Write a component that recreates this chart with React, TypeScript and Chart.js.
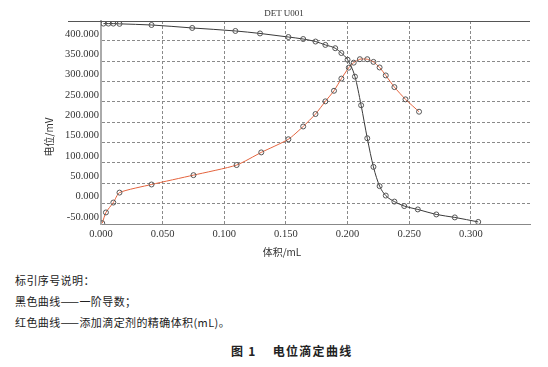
import React, { useEffect, useRef } from "react";
import { Chart, registerables } from "chart.js";

Chart.register(...registerables);

// ---- data ----
const CHART_TITLE = "DET U001";
const X_TITLE = "体积/mL";
const Y_TITLE = "电位/mV";

const blackX = [0.002, 0.006, 0.010, 0.015, 0.041, 0.074, 0.109, 0.129, 0.152, 0.164, 0.174, 0.182, 0.190, 0.195, 0.200, 0.206, 0.211, 0.216, 0.221, 0.226, 0.231, 0.238, 0.246, 0.257, 0.272, 0.287, 0.306];
const blackY = [442.6, 442.6, 442.6, 442.0, 439.2, 431.9, 424.5, 418.4, 409.6, 404.7, 398.5, 390.2, 382.1, 370.3, 353.9, 312.3, 241.9, 160.8, 90.4, 43.1, 19.9, 5.1, -5.9, -14.2, -26.5, -33.8, -44.9];

const redX = [0.001, 0.004, 0.010, 0.015, 0.041, 0.075, 0.110, 0.130, 0.152, 0.164, 0.174, 0.182, 0.189, 0.195, 0.201, 0.205, 0.210, 0.216, 0.221, 0.226, 0.231, 0.238, 0.247, 0.258];
const redY = [-48.0, -21.6, 2.7, 27.2, 47.1, 70.1, 94.9, 126.0, 158.3, 189.7, 220.3, 251.5, 277.5, 307.4, 334.3, 346.6, 355.1, 355.1, 348.5, 334.8, 315.2, 286.5, 256.4, 226.0];

const xTicks = [0, 0.05, 0.1, 0.15, 0.2, 0.25, 0.3];
const yTicks = [-50, 0, 50, 100, 150, 200, 250, 300, 350, 400];

const X_MIN = 0;
const X_MAX = 0.348;
const Y_MIN = -50;
const Y_MAX = 449;

const NOTE_HEAD = "标引序号说明：";
const NOTE_BLACK = "黑色曲线——一阶导数；";
const NOTE_RED = "红色曲线——添加滴定剂的精确体积(mL)。";
const FIG_CAPTION_NUM = "图 1";
const FIG_CAPTION_TEXT = "电位滴定曲线";

const W = 548;
const CH = 265;

const decorPlugin = {
  id: "decor",
  afterDraw(chart: any) {
    const { ctx, chartArea } = chart;
    ctx.save();
    ctx.strokeStyle = "#555";
    ctx.lineWidth = 1;
    const ty = Math.round(chartArea.top) + 0.5;
    ctx.beginPath();
    ctx.moveTo(68, ty);
    ctx.lineTo(chartArea.right, ty);
    ctx.stroke();

    ctx.fillStyle = "#333";
    ctx.textAlign = "center";
    ctx.textBaseline = "middle";
    ctx.font = '9px "Liberation Serif"';
    ctx.fillText(CHART_TITLE, 284, 14);

    ctx.font = '10px "Noto Sans CJK SC"';
    ctx.fillText(X_TITLE, 282, 252);

    ctx.translate(49, 137);
    ctx.rotate(-Math.PI / 2);
    ctx.fillText(Y_TITLE, 0, 0);
    ctx.restore();
  },
};

export default function App() {
  const ref = useRef<HTMLCanvasElement | null>(null);

  useEffect(() => {
    if (!ref.current) return;
    const pointStyle = {
      pointRadius: 2.5,
      pointHoverRadius: 2.5,
      pointBorderWidth: 1,
      pointBorderColor: "#555",
      pointBackgroundColor: "rgba(0,0,0,0)",
      borderWidth: 1,
    };
    const chart = new Chart(ref.current, {
      type: "line",
      data: {
        datasets: [
          {
            label: "black",
            data: blackX.map((x, i) => ({ x, y: blackY[i] })),
            borderColor: "#3a3a3a",
            cubicInterpolationMode: "monotone",
            ...pointStyle,
          },
          {
            label: "red",
            data: redX.map((x, i) => ({ x, y: redY[i] })),
            borderColor: "#e4643e",
            tension: 0.2,
            ...pointStyle,
          },
        ],
      },
      options: {
        animation: false,
        responsive: false,
        devicePixelRatio: 1,
        layout: { padding: { left: 1, right: 18, top: 21, bottom: 0 } },
        plugins: {
          legend: { display: false },
          title: { display: false },
          tooltip: { enabled: false },
        },
        scales: {
          x: {
            type: "linear",
            min: X_MIN,
            max: X_MAX,
            afterBuildTicks(scale: any) {
              scale.ticks = xTicks.map((v) => ({ value: v }));
            },
            afterFit(scale: any) {
              scale.height = 41;
            },
            ticks: {
              padding: 4,
              color: "#333",
              font: { family: "Liberation Serif", size: 10.5 },
              callback: (v: any) => Number(v).toFixed(3),
              maxRotation: 0,
              autoSkip: false,
            },
            grid: {
              color: "#8a8a8a",
              lineWidth: 1,
              drawTicks: false,
            },
            border: { color: "#888", width: 1, dash: [3, 2] },
          },
          y: {
            type: "linear",
            min: Y_MIN,
            max: Y_MAX,
            afterBuildTicks(scale: any) {
              scale.ticks = yTicks.map((v) => ({ value: v }));
            },
            afterFit(scale: any) {
              scale.width = 100;
            },
            ticks: {
              padding: 2,
              labelOffset: -7,
              color: "#333",
              font: { family: "Liberation Serif", size: 10.5 },
              callback: (v: any) => Number(v).toFixed(3),
              autoSkip: false,
            },
            grid: {
              color: "#8a8a8a",
              lineWidth: 1,
              drawTicks: false,
            },
            border: { color: "#aaa", width: 2, dash: [3, 2] },
          },
        },
      },
      plugins: [decorPlugin],
    });
    return () => chart.destroy();
  }, []);

  const noteStyle: React.CSSProperties = {
    position: "absolute",
    left: 15,
    fontFamily: '"Noto Sans CJK SC"',
    fontSize: 11,
    lineHeight: "14px",
    letterSpacing: "0.4px",
    color: "#222",
    whiteSpace: "nowrap",
  };

  return (
    <div style={{ position: "absolute", left: 0, top: 0, width: W, height: 367, background: "#fff", overflow: "hidden" }}>
      <canvas ref={ref} width={W} height={CH} style={{ position: "absolute", left: 0, top: 0, width: W, height: CH }} />
      <div style={{ ...noteStyle, top: 273 }}>{NOTE_HEAD}</div>
      <div style={{ ...noteStyle, top: 294 }}>{NOTE_BLACK}</div>
      <div style={{ ...noteStyle, top: 315 }}>{NOTE_RED}</div>
      <div
        style={{
          position: "absolute",
          left: 231,
          top: 343,
          fontFamily: '"Noto Sans CJK SC"',
          fontWeight: 700,
          fontSize: 12,
          lineHeight: "15px",
          letterSpacing: "1.3px",
          color: "#222",
          whiteSpace: "nowrap",
        }}
      >
        {FIG_CAPTION_NUM}
        <span style={{ marginLeft: 16 }}>{FIG_CAPTION_TEXT}</span>
      </div>
    </div>
  );
}
